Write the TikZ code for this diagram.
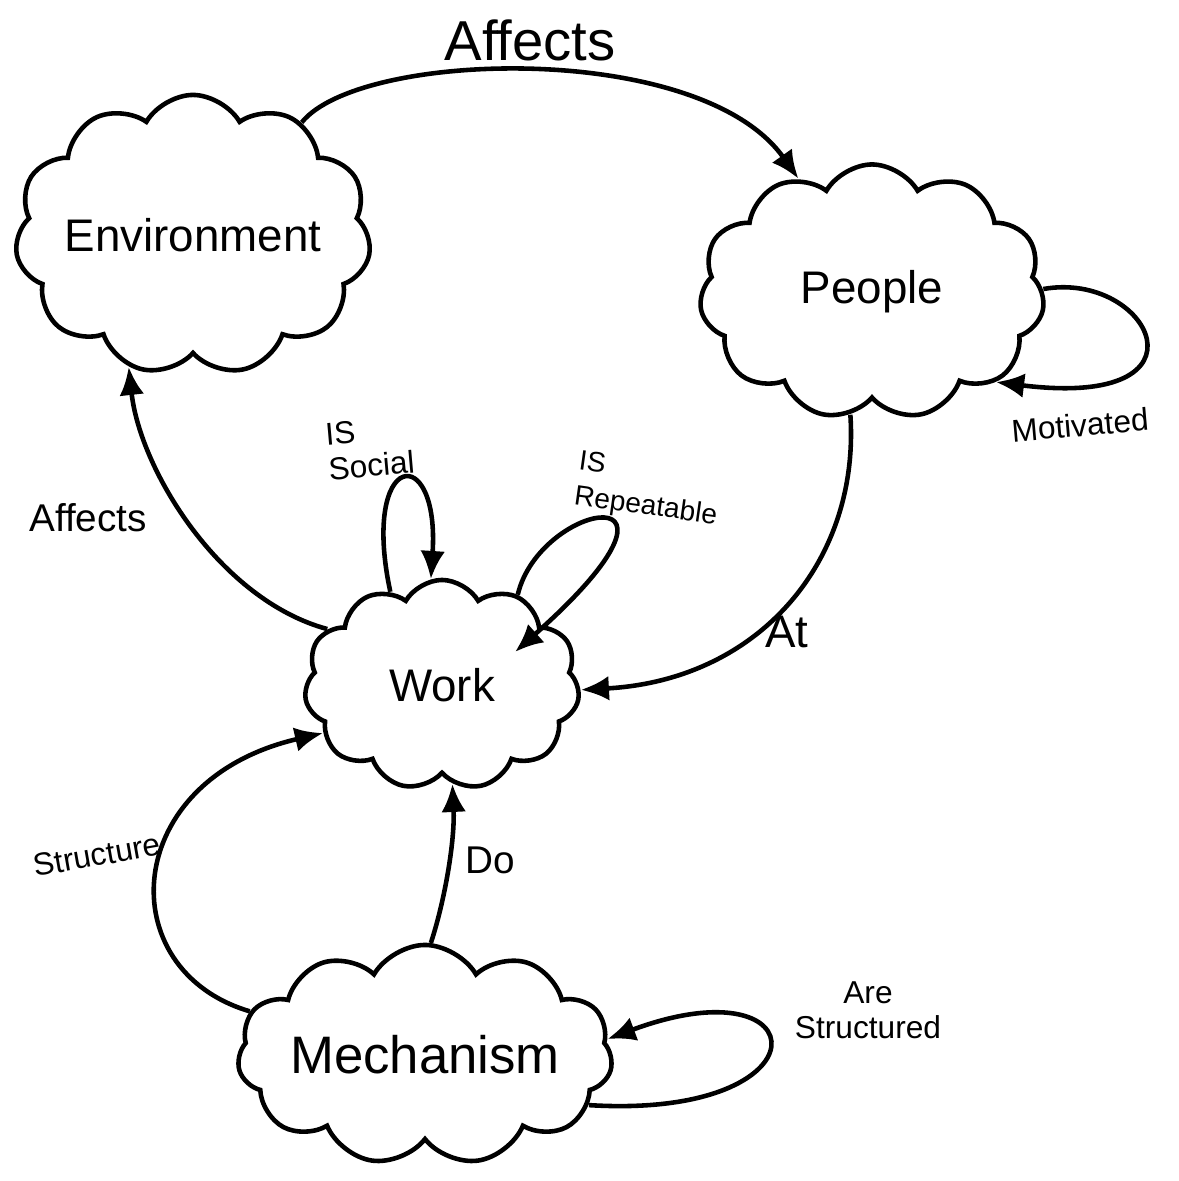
\documentclass[tikz,border=0pt]{standalone}
\usepackage{fontspec}
\setmainfont{Liberation Sans}
\usetikzlibrary{shapes.symbols,arrows.meta}
\begin{document}
\begin{tikzpicture}[x=0.01cm,y=-0.01cm,
  cloudbox/.style={cloud, cloud puffs=11, cloud puff arc=120, cloud ignores aspect,
    draw, line width=1.3pt, inner sep=0pt},
  link/.style={line width=1.3pt, -{Latex[length=8pt,width=7pt]}},
  lbl/.style={inner sep=0pt},
  big/.style={font=\fontsize{13}{15}\selectfont},
  mid/.style={font=\fontsize{11}{12}\selectfont},
  small/.style={font=\fontsize{9}{10}\selectfont}
]
\useasboundingbox (0,0) rectangle (1179,1181);
\fill[white] (0,0) rectangle (1179,1181);

% clouds
\node[cloudbox, minimum width=3.35cm, minimum height=2.8cm, big] (env) at (193,235) {Environment};
\node[cloudbox, minimum width=3.45cm, minimum height=2.55cm, big] (people) at (872,292) {People};
\node[cloudbox, minimum width=2.75cm, minimum height=2.1cm, big] (work) at (442,685) {Work};
\node[cloudbox, minimum width=3.55cm, minimum height=2.2cm, font=\fontsize{15}{17}\selectfont] (mech) at (425,1055) {Mechanism};

% end point of the repeatable loop, inside the Work cloud
\coordinate (workin) at (515,652);

% connectors
\draw[link] (env.46) .. controls (360,50) and (700,40) .. (people.123);
\draw[link] (work.154) .. controls (220,600) and (140,470) .. (env.244);
\draw[link] (work.119) .. controls (360,450) and (440,440) .. (work.96);
\draw[link] (work.50) .. controls (540,500) and (720,470) .. (workin);
\draw[link] (people.260) .. controls (860,560) and (760,680) .. (work.358);
\draw[link] (people.1) .. controls (1150,270) and (1220,410) .. (people.324);
\draw[link] (mech.166) .. controls (110,970) and (120,780) .. (work.202);
\draw[link] (mech.87) .. controls (445,900) and (455,840) .. (work.276);
\draw[link] (mech.343) .. controls (830,1120) and (820,960) .. (mech.5);

% labels
\node[lbl, font=\fontsize{16}{18}\selectfont] (l1) at (530,40) {Affects};
\node[lbl, mid] (l2) at (88,518) {Affects};
\node[lbl, small, align=left, rotate=5] (l3) at (370,448) {IS\\Social};
\node[lbl, font=\fontsize{8}{10}\selectfont, align=left, rotate=-8] (l4) at (648,490) {IS\\Repeatable};
\node[lbl, font=\fontsize{13}{15}\selectfont] (l5) at (787,632) {At};
\node[lbl, small, rotate=5] (l6) at (1080,425) {Motivated};
\node[lbl, small, rotate=10] (l7) at (97,855) {Structure};
\node[lbl, font=\fontsize{11}{13}\selectfont] (l8) at (490,860) {Do};
\node[lbl, small, align=center] (l9) at (868,1010) {Are\\Structured};
\end{tikzpicture}
\end{document}
